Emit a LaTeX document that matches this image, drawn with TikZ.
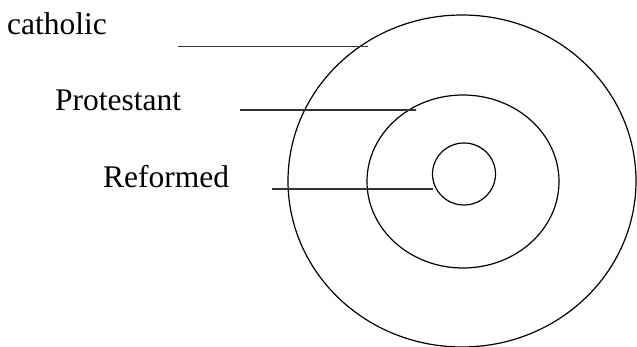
\documentclass[tikz,border=0pt]{standalone}
\usepackage{fontspec}
\setmainfont{Liberation Serif}
\usepackage{tikz}
\usetikzlibrary{positioning, shapes.geometric}

\begin{document}
\begin{tikzpicture}[
    % One unit is one pixel of the sketch, y grows downwards
    x=1pt, y=-1pt,
    % Define the style for the rings
    ring/.style={ellipse, draw, inner sep=0pt, line width=1.2pt},
    % Define the style for the names
    tag/.style={anchor=base west, inner sep=0pt, font=\fontsize{31.5}{36}\selectfont},
    % Define the style for the leader lines
    leader/.style={draw=black!80, line width=1.4pt}
]

    % --- Configuration ---
    \useasboundingbox (0,0) rectangle (637,347);

    % --- The Rings ---
    \node[ring, minimum width=348pt, minimum height=332pt] (outer) at (462,181) {};
    \node[ring, minimum width=192pt, minimum height=173pt] (middle) at (463,181.5) {};
    \node[ring, minimum width=63pt, minimum height=62pt] (inner) at (464,174) {};

    % --- The Names ---
    \foreach \name/\txt/\px/\py in {cath/catholic/7/35, prot/Protestant/55/111, refo/Reformed/103/188} {
        \node[tag] (\name) at (\px,\py) {\txt};
    }

    % --- The Leader Lines ---
    % Each one starts in the blank space right of its name and runs to its ring.
    \foreach \name/\ly/\sx/\ex in {cath/46.7/178/368, prot/110/240/416, refo/189/272/433} {
        \coordinate (\name-start) at (\sx,\ly);
        \coordinate (\name-end) at (\ex,\ly);
        \draw[leader] (\name-start) -- (\name-end);
    }

\end{tikzpicture}
\end{document}
